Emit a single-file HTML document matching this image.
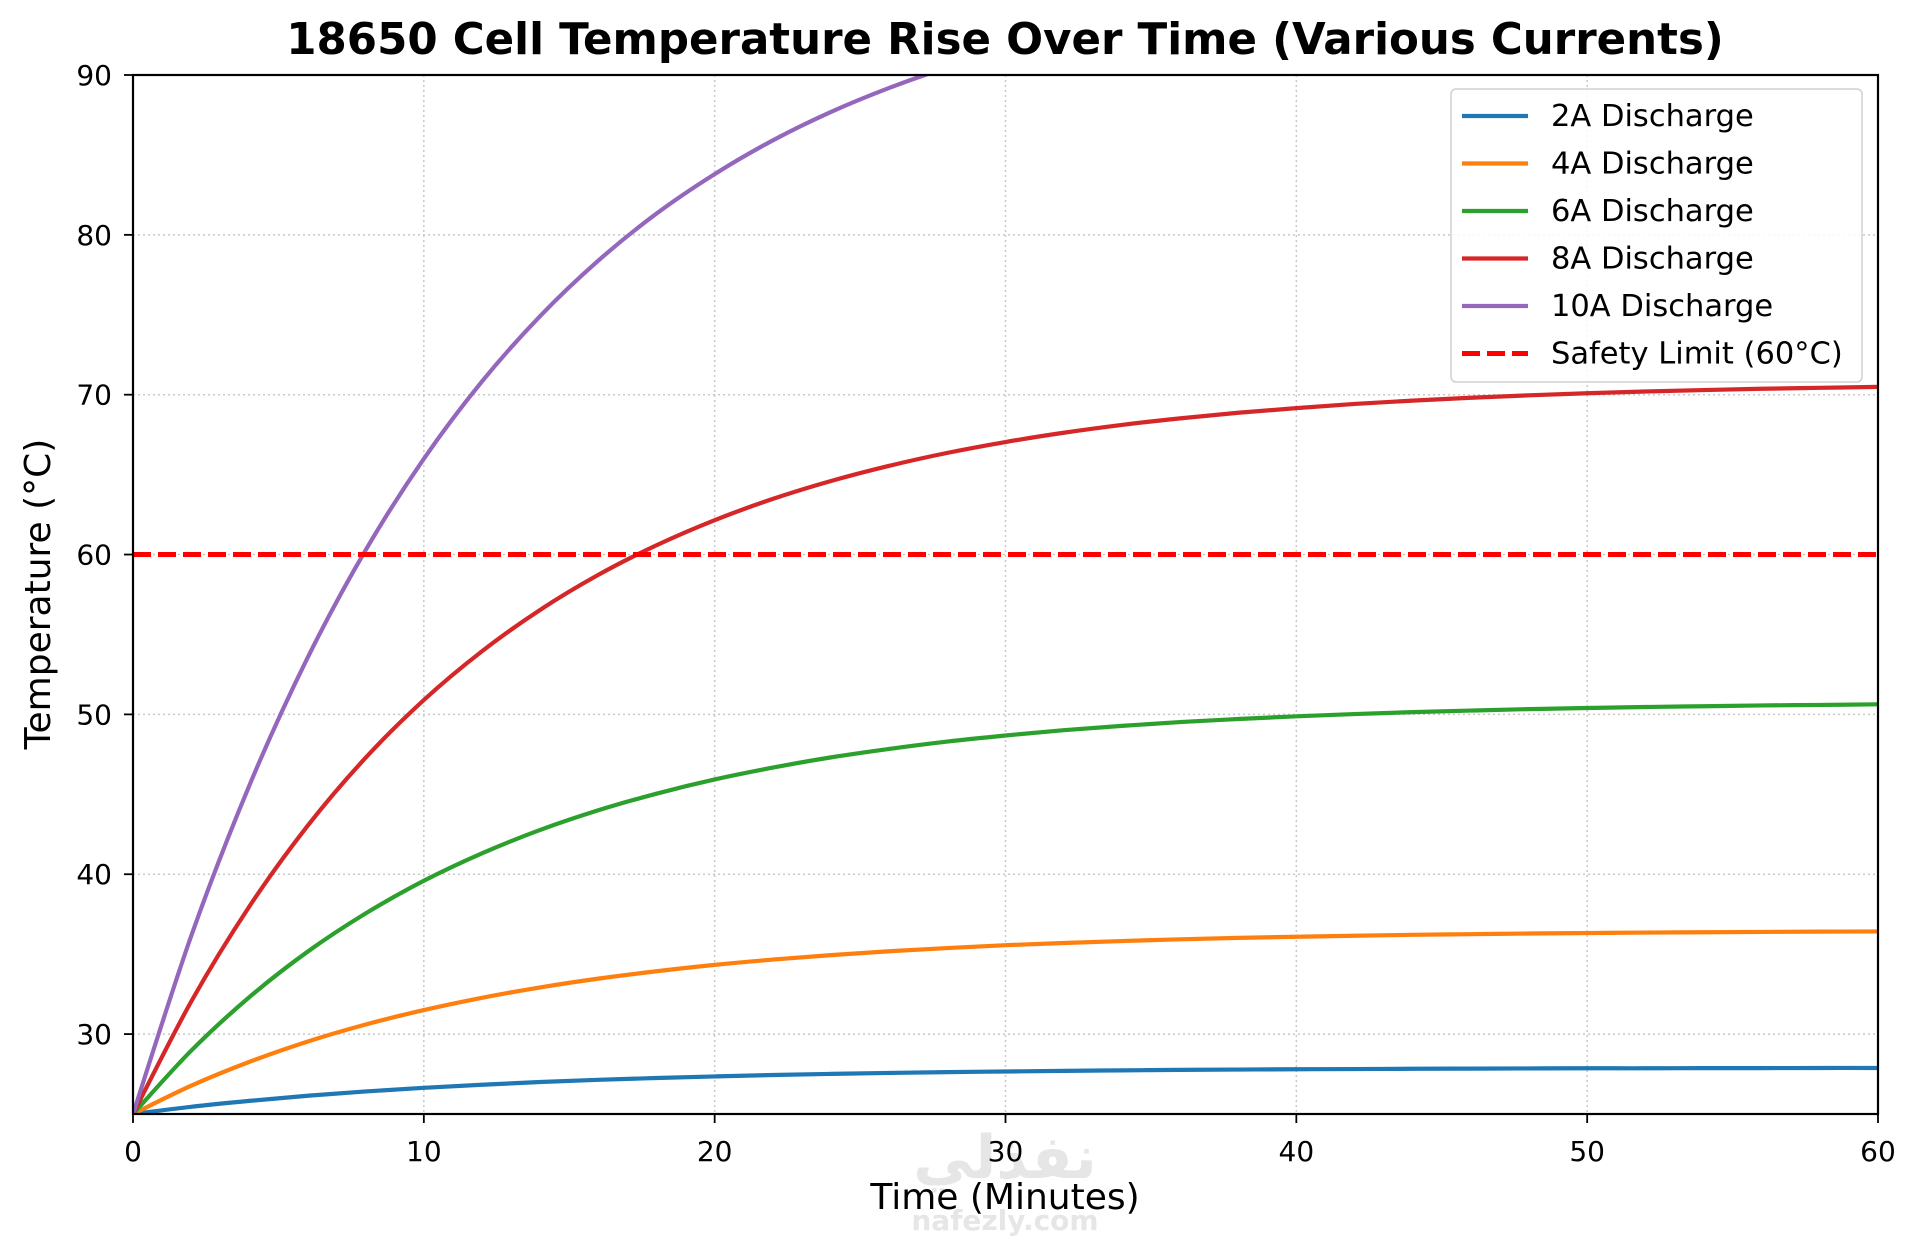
<!DOCTYPE html>
<html><head><meta charset="utf-8"><style>
body{margin:0;background:#fff;}
svg{display:block;font-family:"DejaVu Sans","Liberation Sans",sans-serif;}
</style></head><body>
<svg id="chart" width="1920" height="1239">
<text x="1005" y="54" text-anchor="middle" font-size="43.5" font-weight="bold">18650 Cell Temperature Rise Over Time (Various Currents)</text>
<defs><clipPath id="pc"><rect x="133" y="75" width="1745" height="1039"/></clipPath></defs>
<g id="grid"></g>
<text x="1005" y="1178" text-anchor="middle" font-size="60" font-weight="bold" fill="#e6e6e6">نفذلي</text>
<text x="1005" y="1230" text-anchor="middle" font-size="28" font-weight="bold" fill="#e6e6e6">nafezly.com</text>
<g id="series" clip-path="url(#pc)"></g>
<rect x="133" y="75" width="1745" height="1039" fill="none" stroke="#000" stroke-width="2.2"/>
<g id="ticks"></g>
<text x="1005" y="1209" text-anchor="middle" font-size="36">Time (Minutes)</text>
<text transform="translate(50,594) rotate(-90)" text-anchor="middle" font-size="36">Temperature (°C)</text>
<g id="legend"></g>
</svg>
<script>
const times=[0,2,4,6,8,10,12,14,16,18,20,22,24,26,28,30,32,34,36,38,40,42,44,46,48,50,52,54,56,58,60];
const s2A=[25,25.45,25.82,26.14,26.41,26.64,26.83,27.00,27.14,27.25,27.35,27.44,27.51,27.57,27.62,27.66,27.70,27.73,27.76,27.78,27.80,27.81,27.83,27.84,27.85,27.86,27.86,27.87,27.87,27.88,27.88];
const s4A=[25,26.77,28.26,29.53,30.60,31.50,32.27,32.92,33.47,33.93,34.33,34.66,34.94,35.18,35.38,35.56,35.70,35.82,35.93,36.02,36.09,36.15,36.21,36.25,36.29,36.32,36.35,36.37,36.39,36.41,36.42];
const s6A=[25,28.96,32.31,35.15,37.55,39.59,41.31,42.77,44.00,45.04,45.93,46.67,47.31,47.84,48.30,48.68,49.01,49.28,49.52,49.71,49.88,50.02,50.14,50.24,50.33,50.40,50.46,50.51,50.56,50.59,50.63];
const s8A=[25,32.03,37.98,43.02,47.29,50.90,53.95,56.54,58.73,60.58,62.15,63.48,64.60,65.55,66.36,67.04,67.62,68.11,68.52,68.87,69.16,69.42,69.63,69.81,69.96,70.09,70.20,70.29,70.37,70.43,70.49];
const s10A=[25,36.13,45.55,53.53,60.28,65.99,70.83,74.92,78.39,81.33,83.80,85.91,87.69,89.19,90.47,91.55,92.46,93.24,93.89,94.45,94.91,95.31,95.64,95.93,96.17,96.38,96.55,96.70,96.82,96.92,97.01];
const safetyLimit=60;
const seriesNames=["2A Discharge","4A Discharge","6A Discharge","8A Discharge","10A Discharge"];
const xTicks=[0,10,20,30,40,50,60];
const yTicks=[30,40,50,60,70,80,90];
const colors=["#1f77b4","#ff7f0e","#2ca02c","#d62728","#9467bd"];
const NS="http://www.w3.org/2000/svg";
const X=t=>133+t/60*1745, Y=v=>1114-(v-25)/65*1039;
function mk(tag,attrs,parent){const e=document.createElementNS(NS,tag);for(const k in attrs)e.setAttribute(k,attrs[k]);parent.appendChild(e);return e;}
function smoothPath(pts){
 let d='M'+pts[0][0]+','+pts[0][1];
 for(let i=0;i<pts.length-1;i++){
  const p0=pts[i>0?i-1:i],p1=pts[i],p2=pts[i+1],p3=pts[i+2<pts.length?i+2:i+1];
  const c1x=p1[0]+(p2[0]-p0[0])/6,c1y=p1[1]+(p2[1]-p0[1])/6;
  const c2x=p2[0]-(p3[0]-p1[0])/6,c2y=p2[1]-(p3[1]-p1[1])/6;
  d+=' C'+c1x+','+c1y+' '+c2x+','+c2y+' '+p2[0]+','+p2[1];
 }
 return d;
}
const grid=document.getElementById('grid'),ticks=document.getElementById('ticks'),ser=document.getElementById('series'),leg=document.getElementById('legend');
xTicks.forEach(t=>{
 const g=mk('line',{x1:X(t),x2:X(t),y1:75,y2:1114,stroke:'#c8c8c8','stroke-width':1.5,'stroke-dasharray':'2,3'},grid);
 
 
 mk('line',{x1:X(t),x2:X(t),y1:1114,y2:1123,stroke:'#000','stroke-width':1.8},ticks);
 const l=mk('text',{x:X(t),y:1161,'text-anchor':'middle','font-size':28},ticks);l.textContent=t;
 
 
});
yTicks.forEach(v=>{
 const g=mk('line',{x1:133,x2:1878,y1:Y(v),y2:Y(v),stroke:'#c8c8c8','stroke-width':1.5,'stroke-dasharray':'2,3'},grid);
 
 
 mk('line',{x1:124,x2:133,y1:Y(v),y2:Y(v),stroke:'#000','stroke-width':1.8},ticks);
 const l=mk('text',{x:112,y:Y(v)+10,'text-anchor':'end','font-size':28},ticks);l.textContent=v;
 
 
});
[s2A,s4A,s6A,s8A,s10A].forEach((s,i)=>{
 const p=mk('path',{d:smoothPath(s.map((v,j)=>[X(times[j]),Y(v)])),fill:'none',stroke:colors[i],'stroke-width':4.2,'stroke-linejoin':'round'},ser);
 
 
});
const sl=mk('line',{x1:133,x2:1878,y1:Y(safetyLimit),y2:Y(safetyLimit),stroke:'#ff0000','stroke-width':5,'stroke-dasharray':'18,7'},ser);


const lb=mk('rect',{x:1451,y:89,width:411,height:293,rx:5,fill:'#fff','fill-opacity':0.85,stroke:'#d0d0d0','stroke-width':1.5},leg);


const labels=seriesNames.concat(["Safety Limit (60°C)"]);
labels.forEach((n,i)=>{
 const y=116+i*47.5;
 const isS=i===5;
 mk('line',{x1:1462,x2:1528,y1:y,y2:y,stroke:isS?'#ff0000':colors[i],'stroke-width':isS?5:4.2,'stroke-dasharray':isS?'18,7':'none'},leg);
 const t=mk('text',{x:1551,y:y+10,'font-size':30.5},leg);t.textContent=n;
 
 
});
</script>
</body></html>
